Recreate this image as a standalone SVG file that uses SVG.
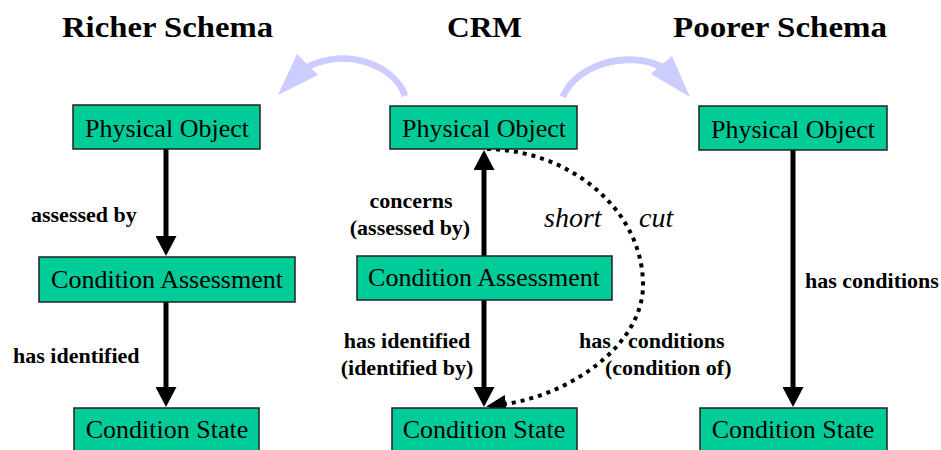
<svg xmlns="http://www.w3.org/2000/svg" width="941" height="450" viewBox="0 0 941 450">
  <style>
    .title { font-weight: bold; font-size: 30px; }
    .box { fill: #00CC99; stroke: #222; stroke-width: 1.5; }
    .name { font-size: 26px; text-anchor: middle; }
    .rel { font-weight: bold; font-size: 22px; }
    .mid { text-anchor: middle; }
    .note { font-style: italic; font-size: 28px; }
    .link { fill: none; stroke: #000; stroke-width: 5; }
    .dots { fill: none; stroke: #000; stroke-width: 4; stroke-dasharray: 4 5; }
    .band { fill: none; stroke: #CCCCFF; stroke-width: 7; }
    .shine { fill: none; stroke: #FFFFFF; stroke-width: 1.2; }
    .bandhead { fill: #CCCCFF; }
  </style>
  <defs>
    <marker id="head" markerUnits="userSpaceOnUse" viewBox="0 0 20 21" refX="1" refY="10.5" markerWidth="20" markerHeight="21" orient="auto">
      <polygon points="0,0 20,10.5 0,21" fill="#000"/>
    </marker>
    <marker id="dothead" markerUnits="userSpaceOnUse" viewBox="0 0 20 18" refX="1" refY="9" markerWidth="20" markerHeight="18" orient="auto">
      <polygon points="0,0 20,9 0,18" fill="#000"/>
    </marker>
  </defs>

  <g font-family="Liberation Serif, Times New Roman, serif" fill="#000">
  <!-- column headings -->
  <text class="title" x="62" y="37" textLength="211" lengthAdjust="spacingAndGlyphs">Richer  Schema</text>
  <text class="title" x="447" y="37" textLength="75" lengthAdjust="spacingAndGlyphs">CRM</text>
  <text class="title" x="673" y="37" textLength="214" lengthAdjust="spacingAndGlyphs">Poorer  Schema</text>

  <!-- mapping arrows between schemas -->
  <g id="map-arrows">
    <path class="band" d="M 405 96 C 393 64, 345 48, 308 67"/>
    <path class="shine" d="M 401 96 C 390 67, 346 53, 310 70"/>
    <polygon class="bandhead" points="278,95 297,54 318,75"/>
    <path class="band" d="M 563 97 C 577 64, 628 50, 662 67"/>
    <path class="shine" d="M 567 97 C 580 68, 628 55, 660 71"/>
    <polygon class="bandhead" points="690,97 672,56 651,74"/>
  </g>

  <!-- connectors -->
  <g id="connectors">
    <line class="link" x1="166" y1="149" x2="166" y2="237" marker-end="url(#head)"/>
    <line class="link" x1="166" y1="302" x2="166" y2="388" marker-end="url(#head)"/>
    <line class="link" x1="484" y1="256" x2="484" y2="169" marker-end="url(#head)"/>
    <line class="link" x1="484" y1="300" x2="484" y2="388" marker-end="url(#head)"/>
    <line class="link" x1="793" y1="150" x2="793" y2="388" marker-end="url(#head)"/>
    <path class="dots" d="M 487 149 C 570 150, 643 210, 643 285 C 643 345, 570 395, 505 404" marker-end="url(#dothead)"/>
  </g>

  <!-- connector labels -->
  <g id="labels">
    <text class="rel" x="31" y="222">assessed by</text>
    <text class="rel" x="13" y="363">has identified</text>
    <text class="rel mid" x="411" y="208">concerns</text>
    <text class="rel mid" x="410" y="235">(assessed by)</text>
    <text class="rel mid" x="407" y="348">has identified</text>
    <text class="rel mid" x="407" y="375">(identified by)</text>
    <text class="rel" y="348"><tspan x="579">has</tspan><tspan x="628">conditions</tspan></text>
    <text class="rel" x="605" y="375">(condition of)</text>
    <text class="rel" x="805" y="288">has conditions</text>
    <text class="note" x="544" y="227">short</text>
    <text class="note" x="639" y="227">cut</text>
  </g>

  <!-- richer schema -->
  <g id="rich-physical-object">
    <rect class="box" x="73" y="105" width="187" height="44"/>
    <text class="name" x="167" y="137">Physical Object</text>
  </g>
  <g id="rich-condition-assessment">
    <rect class="box" x="39" y="257" width="256" height="45"/>
    <text class="name" x="167" y="288">Condition Assessment</text>
  </g>
  <g id="rich-condition-state">
    <rect class="box" x="74" y="408" width="185" height="46"/>
    <text class="name" x="167" y="438">Condition State</text>
  </g>

  <!-- CRM -->
  <g id="crm-physical-object">
    <rect class="box" x="390" y="106" width="187" height="43"/>
    <text class="name" x="484" y="137">Physical Object</text>
  </g>
  <g id="crm-condition-assessment">
    <rect class="box" x="357" y="256" width="255" height="44"/>
    <text class="name" x="484" y="286">Condition Assessment</text>
  </g>
  <g id="crm-condition-state">
    <rect class="box" x="392" y="408" width="185" height="46"/>
    <text class="name" x="484" y="438">Condition State</text>
  </g>

  <!-- poorer schema -->
  <g id="poor-physical-object">
    <rect class="box" x="699" y="106" width="188" height="44"/>
    <text class="name" x="793" y="138">Physical Object</text>
  </g>
  <g id="poor-condition-state">
    <rect class="box" x="700" y="408" width="187" height="46"/>
    <text class="name" x="793" y="438">Condition State</text>
  </g>
  </g>
</svg>
